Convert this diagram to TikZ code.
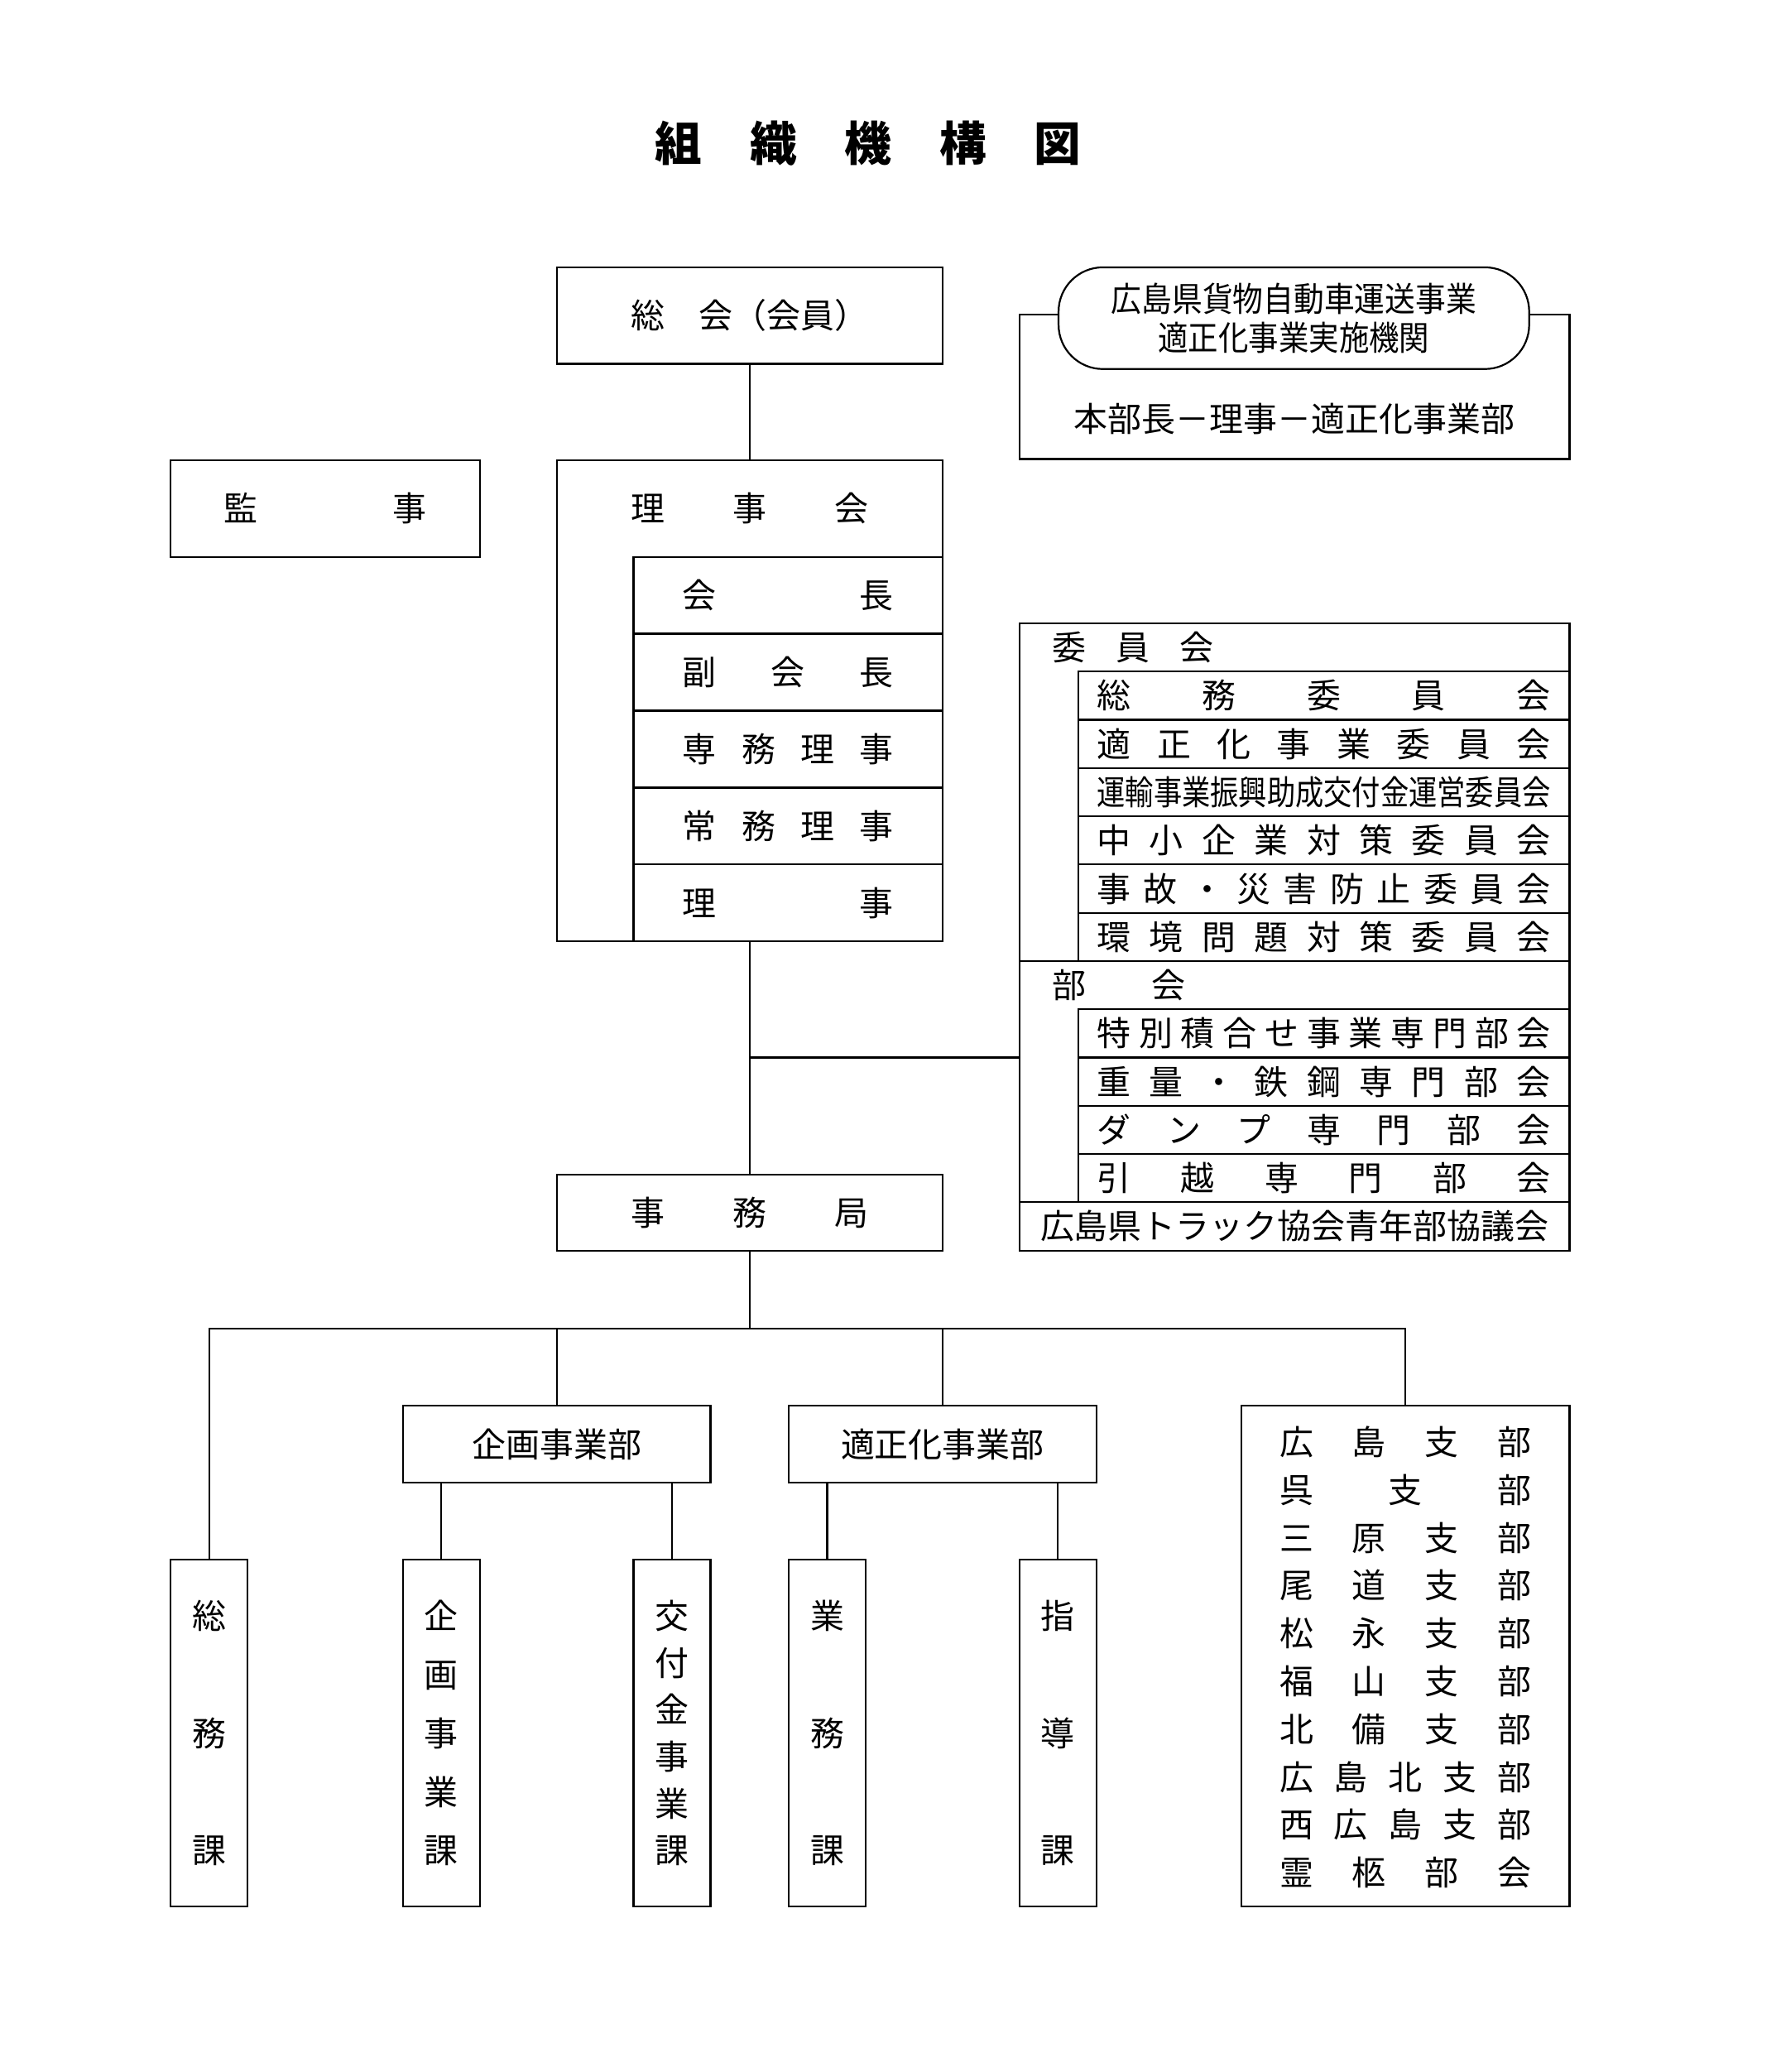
\documentclass[tikz,border=0pt]{standalone}
\usepackage{fontspec}
\setmainfont{Noto Sans CJK JP}
\usepackage{graphicx}

\newcommand\spreadtext[2]{\makebox[#1][s]{\expandafter\spreadfirst#2\relax}}
\def\spreadfirst#1{#1\spreadnext}
\def\spreadnext#1{\ifx\relax#1\else\hfill#1\expandafter\spreadnext\fi}

\tikzstyle{box} = [rectangle, draw=black, line width=0.7pt, inner sep=0pt, outer sep=0pt]
\tikzstyle{yaku} = [box, minimum width=118.5pt, minimum height=29.5pt]
\tikzstyle{iinrow} = [box, minimum width=188.5pt, minimum height=18.5pt]
\tikzstyle{ka} = [box, minimum width=29.5pt, minimum height=133pt, align=center]
\tikzstyle{conn} = [line width=0.7pt]

\begin{document}
\begin{tikzpicture}[x=0.5pt, y=-0.5pt, font=\fontsize{13pt}{15pt}\selectfont]
\useasboundingbox (0,0) rectangle (1366,1589);

\node (title) at (666,110) [font=\fontsize{18pt}{20pt}\selectfont\bfseries] {\spreadtext{163.5pt}{組織機構図}};

% general meeting, board, auditor
\node (soukai) at (575,242) [box, minimum width=148pt, minimum height=37pt] {総\quad 会（会員）};
\node (rijikai) at (575,537.5) [box, minimum width=148pt, minimum height=184.5pt] {};
\node (rijikaititle) at (575,390) {\spreadtext{91pt}{理事会}};
\foreach \t [count=\i from 0] in {会長,副会長,専務理事,常務理事,理事}
  \node (yaku\i) at (604.5,{456.5+59*\i}) [yaku] {\spreadtext{81pt}{\t}};
\node (kanji) at (249.5,390) [box, minimum width=118.5pt, minimum height=37pt] {\spreadtext{78pt}{監事}};

% enforcement body
\node (honbu) at (993,296.5) [box, minimum width=211pt, minimum height=55.5pt] {};
\node (honbutext) at (993,321) {本部長－理事－適正化事業部};
\node (kikan) at (992.5,244) [box, rounded corners=17pt, fill=white, minimum width=180.5pt, minimum height=39pt, align=center] {\resizebox{140pt}{\height}{広島県貨物自動車運送事業}\\\resizebox{104pt}{\height}{適正化事業実施機関}};

% committees
\node (iinkai) at (993,607.5) [box, minimum width=211pt, minimum height=129.5pt] {};
\node (bukai) at (993,829.5) [box, minimum width=211pt, minimum height=92.5pt] {};
\node (seinen) at (993,940.5) [box, minimum width=211pt, minimum height=18.5pt] {広島県トラック協会青年部協議会};
\node (iinkaititle) at (800,496.5) [anchor=west] {\spreadtext{62pt}{委員会}};
\node (bukaititle) at (800,755.5) [anchor=west] {\spreadtext{51pt}{部会}};
\foreach \k/\t in {0/総務委員会,1/適正化事業委員会,3/中小企業対策委員会,4/事故・災害防止委員会,5/環境問題対策委員会}
  \node (iin\k) at (1015.5,{533.5+37*\k}) [iinrow] {\spreadtext{174pt}{\t}};
\node (iin2) at (1015.5,607.5) [iinrow] {\resizebox{174pt}{\height}{運輸事業振興助成交付金運営委員会}};
\foreach \t [count=\i from 0] in {特別積合せ事業専門部会,重量・鉄鋼専門部会,ダンプ専門部会,引越専門部会}
  \node (bu\i) at (1015.5,{792.5+37*\i}) [iinrow] {\spreadtext{174pt}{\t}};

% secretariat
\node (jimu) at (575,930) [box, minimum width=148pt, minimum height=29pt] {\spreadtext{91pt}{事務局}};

% departments and branches
\node (kikakubu) at (427,1107.5) [box, minimum width=118pt, minimum height=29.5pt] {企画事業部};
\node (tekiseibu) at (723,1107.5) [box, minimum width=118pt, minimum height=29.5pt] {適正化事業部};
\node (shibu) at (1078,1270) [box, minimum width=126pt, minimum height=192pt] {};
\foreach \t [count=\i from 0] in {広島支部,呉支部,三原支部,尾道支部,松永支部,福山支部,北備支部,広島北支部,西広島支部,霊柩部会}
  \node (shibu\i) at (1078,{1106+36.67*\i}) {\spreadtext{96.5pt}{\t}};

% sections
\node (soumu) at (160.5,1329) [ka, font=\fontsize{13pt}{45pt}\selectfont] {総\\務\\課};
\node (kikakuka) at (338.5,1329) [ka, font=\fontsize{13pt}{22.5pt}\selectfont] {企\\画\\事\\業\\課};
\node (koufu) at (515.5,1329) [ka, font=\fontsize{13pt}{18pt}\selectfont] {交\\付\\金\\事\\業\\課};
\node (gyoumu) at (634.5,1329) [ka, font=\fontsize{13pt}{45pt}\selectfont] {業\\務\\課};
\node (shidou) at (811.5,1329) [ka, font=\fontsize{13pt}{45pt}\selectfont] {指\\導\\課};

% connectors
\draw[conn] (soukai) -- (rijikai);
\draw[conn] (rijikai) -- (jimu);
\coordinate (iinjoint) at (575,811);
\draw[conn] (iinjoint) -- (iinjoint -| bukai.west);
\coordinate (bus) at (575,1019);
\draw[conn] (jimu) -- (bus);
\draw[conn] (soumu.north) |- (shibu.north |- bus) -- (shibu.north);
\draw[conn] (kikakubu) -- (kikakubu.north |- bus);
\draw[conn] (tekiseibu) -- (tekiseibu.north |- bus);
\draw[conn] (kikakuka) -- (kikakuka.north |- kikakubu.south);
\draw[conn] (koufu) -- (koufu.north |- kikakubu.south);
\draw[conn] (gyoumu) -- (gyoumu.north |- tekiseibu.south);
\draw[conn] (shidou) -- (shidou.north |- tekiseibu.south);

\end{tikzpicture}
\end{document}
